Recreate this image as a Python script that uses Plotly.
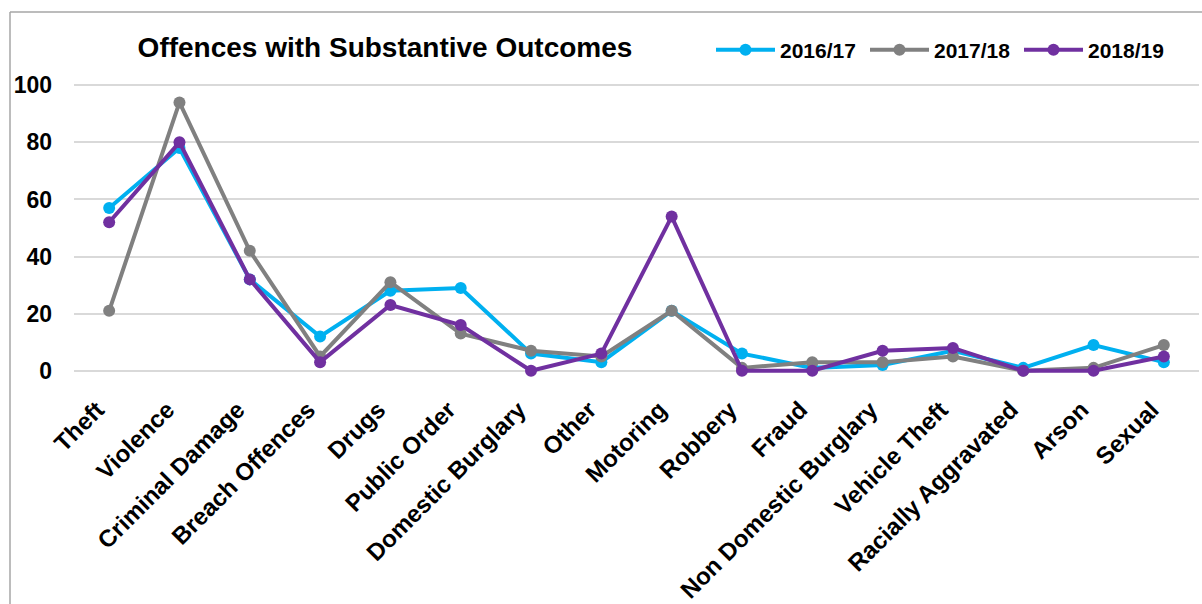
import plotly.graph_objects as go

categories = ["Theft", "Violence", "Criminal Damage", "Breach Offences", "Drugs",
              "Public Order", "Domestic Burglary", "Other", "Motoring", "Robbery",
              "Fraud", "Non Domestic Burglary", "Vehicle Theft", "Racially Aggravated",
              "Arson", "Sexual"]
s2016 = [57, 78, 32, 12, 28, 29, 6, 3, 21, 6, 1, 2, 7, 1, 9, 3]
s2017 = [21, 94, 42, 5, 31, 13, 7, 5, 21, 1, 3, 3, 5, 0, 1, 9]
s2018 = [52, 80, 32, 3, 23, 16, 0, 6, 54, 0, 0, 7, 8, 0, 0, 5]
series_names = ["2016/17", "2017/18", "2018/19"]
colors = ["#00B0F0", "#808080", "#7030A0"]
yticks = [0, 20, 40, 60, 80, 100]

W, H = 1202, 604
ML, MR, MT, MB = 74, 3, 71, 219
FONT = "Liberation Sans, Arial, sans-serif"

fig = go.Figure()
for name, vals, col in zip(series_names, [s2016, s2017, s2018], colors):
    fig.add_trace(go.Scatter(
        x=categories, y=vals, name=name, mode="lines+markers",
        line=dict(color=col, width=4),
        marker=dict(color=col, size=12),
        cliponaxis=False,
    ))

pw = W - ML - MR
ph = H - MT - MB
fig.add_shape(type="line", xref="paper", yref="paper",
              x0=(10 - ML) / pw, x1=(10 - ML) / pw,
              y0=(H - MB - 12) / ph, y1=-1,
              line=dict(color="#A6A6A6", width=1.5))
fig.add_shape(type="line", xref="paper", yref="paper",
              x0=(10 - ML) / pw, x1=1.2,
              y0=(H - MB - 12) / ph, y1=(H - MB - 12) / ph,
              line=dict(color="#A6A6A6", width=1.5))

fig.update_layout(
    width=W, height=H,
    margin=dict(l=ML, r=MR, t=MT, b=MB, autoexpand=False),
    paper_bgcolor="white", plot_bgcolor="white",
    font=dict(family=FONT, color="black"),
    title=dict(text="Offences with Substantive Outcomes",
               font=dict(family=FONT, size=28, weight="bold", color="black"),
               xref="container", yref="container",
               x=385 / W, xanchor="center", y=1 - 47 / H, yanchor="middle"),
    showlegend=True,
    legend=dict(orientation="h", xref="container", yref="container",
                x=711 / W, xanchor="left", y=1 - 50 / H, yanchor="middle",
                font=dict(family=FONT, size=21, weight="bold", color="black"),
                itemwidth=59, entrywidth=80, entrywidthmode="pixels",
                bgcolor="rgba(0,0,0,0)", tracegroupgap=0),
    xaxis=dict(type="category", categoryorder="array", categoryarray=categories,
               tickangle=-45, showgrid=False, showline=False, ticks="",
               tickfont=dict(family=FONT, size=24, weight="bold", color="black"),
               ticklabelstandoff=5, ticklabelshift=-12,
               automargin=False, range=[-0.5, len(categories) - 0.5]),
    yaxis=dict(range=[-5, 105], tickvals=yticks, showgrid=True, gridcolor="#D9D9D9",
               gridwidth=1.5, zeroline=False, showline=False, ticks="",
               ticklabelstandoff=21,
               tickfont=dict(family=FONT, size=23, weight="bold", color="black"),
               automargin=False),
)

fig.write_html("out.html")
